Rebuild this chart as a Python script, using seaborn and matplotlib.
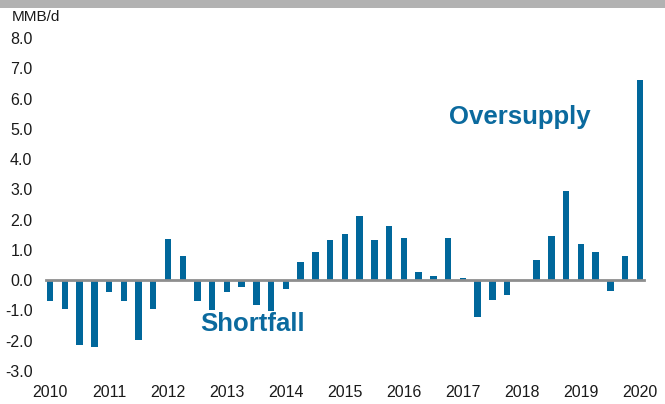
import numpy as np
import pandas as pd
import matplotlib.pyplot as plt
import matplotlib.transforms as mtransforms
from matplotlib.patches import Rectangle
import seaborn as sns

# quarterly supply-demand balance, 2010Q1 .. 2020Q1
quarters = [f"{y}Q{q}" for y in range(2010, 2021) for q in range(1, 5)][:41]
balance = [
    -0.70, -0.95, -2.13, -2.20,   # 2010
    -0.40, -0.70, -1.99, -0.95,   # 2011
     1.35,  0.80, -0.70, -0.98,   # 2012
    -0.40, -0.22, -0.81, -1.03,   # 2013
    -0.29,  0.60,  0.94,  1.34,   # 2014
     1.53,  2.11,  1.33,  1.78,   # 2015
     1.39,  0.26,  0.13,  1.39,   # 2016
     0.07, -1.23, -0.64, -0.48,   # 2017
     0.00,  0.66,  1.45,  2.95,   # 2018
     1.19,  0.92, -0.36,  0.79,   # 2019
     6.62,                        # 2020
]
year_labels = [str(y) for y in range(2010, 2021)]
y_ticks = np.arange(-3, 9, 1)

bar_color = "#00679b"
text_color = "#0b6a9e"
axis_grey = "#8e8e8e"

df = pd.DataFrame({"quarter": quarters, "balance": balance})

sns.set_style("white")
plt.rcParams["font.family"] = ["Liberation Sans", "DejaVu Sans"]

W, H = 665, 404
fig = plt.figure(figsize=(W / 100, H / 100), dpi=100)
# axes: left 45px, right 651px, top 38px, bottom 371px
ax = fig.add_axes([45 / W, (H - 371) / H, (651 - 45) / W, (371 - 38) / H])

sns.barplot(data=df, x="quarter", y="balance", color=bar_color,
            width=0.44, saturation=1, linewidth=0, ax=ax)

ax.set_ylim(-3, 8)
ax.set_xlim(-0.34, 40.75)
ax.set_xlabel("")
ax.set_ylabel("")

# y axis: labels only
ax.set_yticks(y_ticks)
ax.set_yticklabels([f"{v:.1f}" for v in y_ticks], fontsize=11.5, color="#1a1a1a")
ax.tick_params(axis="y", length=0, pad=9)

# x axis: grey zero line with year ticks
for side in ["left", "right", "top"]:
    ax.spines[side].set_visible(False)
ax.spines["bottom"].set_position(("data", 0))
ax.spines["bottom"].set_color(axis_grey)
ax.spines["bottom"].set_linewidth(2)
ax.spines["bottom"].set_bounds(-0.25, 40.25)
ax.spines["bottom"].set_zorder(3)
year_pos = list(range(0, 41, 4))
ax.set_xticks(year_pos)
ax.tick_params(axis="x", direction="out", length=5, width=1.6,
               color=axis_grey, labelbottom=False)

trans = mtransforms.blended_transform_factory(ax.transData, ax.transAxes)
for pos, lab in zip(year_pos, year_labels):
    ax.text(pos, -0.066, lab, transform=trans, ha="center", va="center",
            fontsize=11.5, color="#1a1a1a")

# annotations
fig.text(520 / W, 1 - 117 / H, "Oversupply", ha="center", va="center",
         fontsize=18.5, fontweight="bold", color=text_color)
fig.text(253 / W, 1 - 324 / H, "Shortfall", ha="center", va="center",
         fontsize=18.5, fontweight="bold", color=text_color)
fig.text(12 / W, 1 - 17 / H, "MMB/d", ha="left", va="center",
         fontsize=11, color="#1a1a1a")

# grey band along the top
fig.patches.append(Rectangle((0, 1 - 8 / H), 1, 8 / H, transform=fig.transFigure,
                             facecolor="#b2b2b2", edgecolor="none"))

fig.savefig("out.png", dpi=100)
